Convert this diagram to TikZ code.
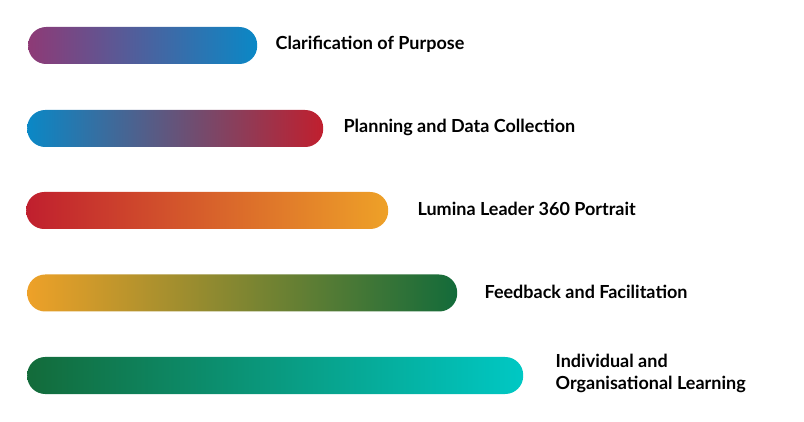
\documentclass[tikz,border=0pt]{standalone}
\usepackage{fontspec}
\setmainfont{Lato}
\usetikzlibrary{positioning}
\definecolor{plum}{HTML}{8E3A76}
\definecolor{ocean}{HTML}{0A88C6}
\definecolor{crimson}{HTML}{C01F2E}
\definecolor{amber}{HTML}{EEA128}
\definecolor{forest}{HTML}{136B3A}
\definecolor{aqua}{HTML}{00C8C4}
\begin{document}
\begin{tikzpicture}[x=1pt,y=-1pt,
  bar/.style={rounded corners=18pt,minimum height=37pt,inner sep=0pt,anchor=west},
  lbl/.style={font=\bfseries\fontsize{18}{22}\selectfont,anchor=west,align=left,inner sep=0pt,yshift=1.5pt}]
  \useasboundingbox (0,0) rectangle (804,422);
  \node[bar,minimum width=229pt,left color=plum,right color=ocean] (b1) at (28,45.5) {};
  \node[bar,minimum width=296pt,left color=ocean,right color=crimson] (b2) at (27,128.5) {};
  \node[bar,minimum width=362pt,left color=crimson,right color=amber] (b3) at (26,210.5) {};
  \node[bar,minimum width=430pt,left color=amber,right color=forest] (b4) at (27,293) {};
  \node[bar,minimum width=496pt,left color=forest,right color=aqua] (b5) at (27,375.5) {};
  \node[lbl,right=18pt of b1] (l1) {Clarification of Purpose};
  \node[lbl,right=20pt of b2] (l2) {Planning and Data Collection};
  \node[lbl,right=29pt of b3] (l3) {Lumina Leader 360 Portrait};
  \node[lbl,right=27pt of b4] (l4) {Feedback and Facilitation};
  \node[lbl,right=32pt of b5,yshift=1pt] (l5) {Individual and\\Organisational Learning};
\end{tikzpicture}
\end{document}
